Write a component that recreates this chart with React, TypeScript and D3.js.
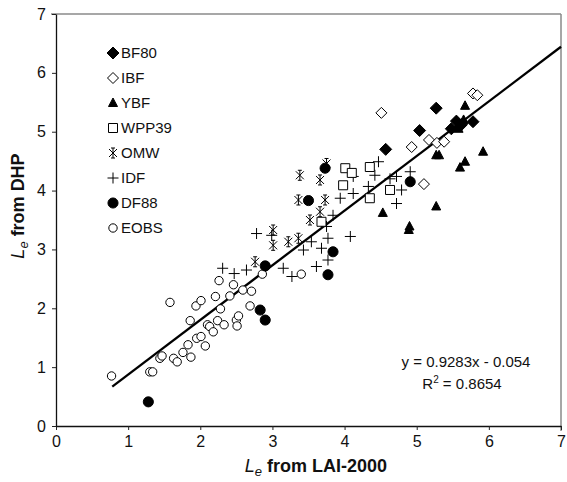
import React, { useEffect, useRef } from "react";
import * as d3 from "d3";

// [LAI-2000 Le, DHP Le] for each site
const bf80 = [[5.27, 5.40], [5.04, 5.02], [4.57, 4.70], [5.48, 5.05], [5.55, 5.18], [5.62, 5.12], [5.78, 5.17]];
const ibf = [[5.78, 5.65], [5.84, 5.62], [4.51, 5.32], [4.93, 4.74], [5.17, 4.86], [5.28, 4.81], [5.38, 4.83], [5.10, 4.11]];
const ybf = [[5.67, 5.44], [5.92, 4.66], [5.67, 4.49], [5.60, 4.39], [5.27, 4.60], [5.31, 4.60], [5.27, 3.73], [4.53, 3.62], [4.90, 3.39], [4.89, 3.33], [5.58, 5.05], [5.65, 5.20]];
const wpp39 = [[4.01, 4.38], [4.35, 4.40], [4.63, 4.01], [4.35, 3.87], [3.98, 4.09], [3.68, 3.47], [4.10, 4.30]];
const omw = [[3.38, 4.26], [3.66, 4.18], [3.75, 4.46], [3.36, 3.84], [3.73, 3.84], [3.66, 3.64], [3.52, 3.50], [3.01, 3.33], [3.22, 3.13], [3.36, 3.19], [2.76, 2.79], [3.01, 3.07]];
const idf = [[4.47, 4.49], [4.42, 4.26], [4.72, 4.24], [4.91, 4.32], [4.12, 4.24], [4.12, 3.95], [4.33, 4.07], [4.79, 4.01], [4.72, 3.78],
  [3.94, 3.87], [3.84, 3.58], [2.78, 3.27], [2.99, 3.24], [3.75, 3.39], [3.77, 3.19], [4.08, 3.22], [3.54, 3.13], [3.43, 2.99], [3.68, 3.02],
  [3.77, 2.82], [3.61, 2.71], [3.15, 2.68], [3.27, 2.54], [2.31, 2.68], [2.47, 2.59], [2.64, 2.65], [4.63, 4.20]];
const df88 = [[3.73, 4.38], [3.50, 3.83], [4.91, 4.15], [3.84, 2.96], [3.77, 2.57], [2.90, 2.72], [2.83, 1.97], [2.90, 1.80], [1.28, 0.41]];
const eobs = [[0.77, 0.85], [1.30, 0.92], [1.34, 0.92], [1.44, 1.15], [1.47, 1.19], [1.58, 2.10], [1.63, 1.15], [1.68, 1.09], [1.76, 1.25],
  [1.83, 1.38], [1.87, 1.17], [1.86, 1.79], [1.94, 2.04], [2.01, 2.13], [1.95, 1.49], [2.01, 1.52], [2.07, 1.36], [2.10, 1.72], [2.13, 1.69],
  [2.18, 1.60], [2.21, 2.20], [2.28, 1.99], [2.24, 1.79], [2.33, 1.72], [2.26, 2.47], [2.41, 2.21], [2.46, 2.40], [2.50, 1.80], [2.53, 1.87],
  [2.51, 1.70], [2.59, 2.31], [2.71, 2.29], [2.69, 2.04], [2.86, 2.58], [3.40, 2.58]];

const seriesNames = ["BF80", "IBF", "YBF", "WPP39", "OMW", "IDF", "DF88", "EOBS"];
const seriesData = [bf80, ibf, ybf, wpp39, omw, idf, df88, eobs];
const xTicks = [0, 1, 2, 3, 4, 5, 6, 7];
const yTicks = [0, 1, 2, 3, 4, 5, 6, 7];
const slope = 0.9283, intercept = -0.054;
const fitRange = [0.78, 7];

const markers = {
  BF80: { path: "M0,-6L6,0L0,6L-6,0Z", fill: "#000" },
  IBF: { path: "M0,-5.5L5.5,0L0,5.5L-5.5,0Z", fill: "#fff" },
  YBF: { path: "M0,-5L4.5,3.5L-4.5,3.5Z", fill: "#000" },
  WPP39: { path: "M-4.5,-4.5H4.5V4.5H-4.5Z", fill: "#fff" },
  OMW: { path: "M-4,-4L4,4M4,-4L-4,4M0,-5V5M-2,-5H2M-2,5H2", fill: "none" },
  IDF: { path: "M-5.5,0H5.5M0,-5.5V5.5", fill: "none" },
  DF88: { path: d3.symbol(d3.symbolCircle, 80)(), fill: "#000" },
  EOBS: { path: d3.symbol(d3.symbolCircle, 55)(), fill: "#fff" },
};

const App = () => {
  const svgRef = useRef();

  useEffect(() => {
    const width = 567, height = 482;
    const svg = d3.select(svgRef.current)
      .attr("width", width)
      .attr("height", height)
      .style("position", "absolute")
      .style("left", 0)
      .style("top", 0)
      .style("font-family", "'Liberation Sans', Arial, sans-serif");

    svg.selectAll("*").remove();

    const x = d3.scaleLinear().domain([0, 7]).range([56, 561]);
    const y = d3.scaleLinear().domain([0, 7]).range([426, 14]);

    // grey frame on top and right
    svg.append("line").attr("x1", 51).attr("x2", 561).attr("y1", y(7)).attr("y2", y(7))
      .attr("stroke", "#8a8a8a").attr("stroke-width", 1.5);
    svg.append("line").attr("x1", x(7)).attr("x2", x(7)).attr("y1", y(7)).attr("y2", 431)
      .attr("stroke", "#8a8a8a").attr("stroke-width", 1.5);

    const xAxis = svg.append("g")
      .attr("transform", `translate(0,${y(0)})`)
      .call(d3.axisBottom(x).tickValues(xTicks).tickFormat(d3.format("d")).tickSize(4).tickPadding(6).tickSizeOuter(0));
    const yAxis = svg.append("g")
      .attr("transform", `translate(${x(0)},0)`)
      .call(d3.axisLeft(y).tickValues(yTicks).tickFormat(d3.format("d")).tickSize(4).tickPadding(6).tickSizeOuter(0));

    [xAxis, yAxis].forEach(g => {
      g.selectAll("text").attr("font-size", 16).attr("fill", "#111").attr("font-family", "'Liberation Sans', Arial, sans-serif");
      g.selectAll("line").attr("stroke", "#222");
      g.select(".domain").attr("stroke", "#111").attr("stroke-width", 1.3);
    });

    // regression line
    svg.append("line")
      .attr("x1", x(fitRange[0])).attr("y1", y(slope * fitRange[0] + intercept))
      .attr("x2", x(fitRange[1])).attr("y2", y(slope * fitRange[1] + intercept))
      .attr("stroke", "#000").attr("stroke-width", 2.3);

    // points, drawn from last series to first so BF80 ends on top
    for (let i = seriesNames.length - 1; i >= 0; i--) {
      const m = markers[seriesNames[i]];
      svg.append("g").selectAll("path")
        .data(seriesData[i])
        .enter()
        .append("path")
        .attr("d", m.path)
        .attr("transform", d => `translate(${x(d[0])},${y(d[1])})`)
        .attr("fill", m.fill)
        .attr("stroke", "#000")
        .attr("stroke-width", 1);
    }

    // legend
    const legend = svg.append("g");
    seriesNames.forEach((name, i) => {
      const m = markers[name];
      const ly = 53 + i * 25;
      legend.append("path").attr("d", m.path)
        .attr("transform", `translate(113,${ly})`)
        .attr("fill", m.fill).attr("stroke", "#000").attr("stroke-width", 1);
      legend.append("text").attr("x", 121).attr("y", ly).attr("dy", "0.36em")
        .attr("font-size", 15).attr("fill", "#111").text(name);
    });

    // equation
    svg.append("text").attr("x", 466).attr("y", 367).attr("text-anchor", "middle")
      .attr("font-size", 15).attr("fill", "#111")
      .text(`y = ${slope}x - ${Math.abs(intercept)}`);
    const r2 = svg.append("text").attr("x", 462).attr("y", 389).attr("text-anchor", "middle")
      .attr("font-size", 15).attr("fill", "#111");
    r2.append("tspan").text("R");
    r2.append("tspan").attr("dy", -6).attr("font-size", 10).text("2");
    r2.append("tspan").attr("dy", 6).text(" = 0.8654");

    // axis titles
    const xt = svg.append("text").attr("x", 316).attr("y", 472).attr("text-anchor", "middle")
      .attr("font-size", 18).attr("fill", "#111");
    xt.append("tspan").attr("font-style", "italic").text("L");
    xt.append("tspan").attr("font-style", "italic").attr("font-size", 13).attr("dy", 4).text("e");
    xt.append("tspan").attr("dy", -4).attr("font-weight", "bold").text("  from LAI-2000");

    const yt = svg.append("text").attr("transform", "translate(24,206) rotate(-90)")
      .attr("text-anchor", "middle").attr("font-size", 18).attr("fill", "#111");
    yt.append("tspan").attr("font-style", "italic").text("L");
    yt.append("tspan").attr("font-style", "italic").attr("font-size", 13).attr("dy", 4).text("e");
    yt.append("tspan").attr("dy", -4).attr("font-weight", "bold").text(" from DHP");
  }, []);

  return <svg ref={svgRef}></svg>;
};

export default App;
